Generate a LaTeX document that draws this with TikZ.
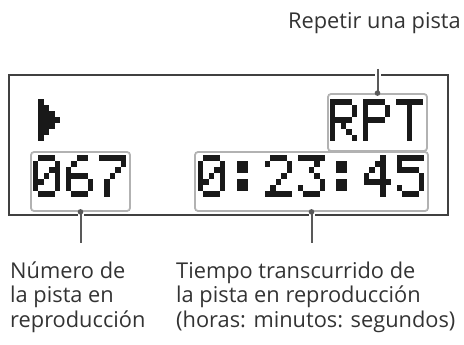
\documentclass[tikz,border=0pt]{standalone}
\usepackage{fontspec}
\setmainfont{Open Sans}
\makeatletter
\newcount\lcdcol
\def\lcdbits#1{\ifx#1\relax\expandafter\@gobble\else\expandafter\@firstofone\fi
  {\ifnum#1=1 \fill[lcd] ({\lcdX+\the\lcdcol*5.4},{\lcdY}) rectangle +(5.45,6.05);\fi
   \advance\lcdcol by 1\relax\lcdbits}}
\makeatother
\newcommand\lcdchar[3]{%
  \foreach \r [count=\j from 0] in #3 {%
    \pgfmathsetmacro\lcdX{#1}%
    \pgfmathsetmacro\lcdY{#2+\j*6}%
    \lcdcol=0
    \expandafter\lcdbits\r\relax
  }}
\def\chZero{01110,10001,10011,10101,11001,10001,01110}
\def\chTwo{01110,10001,00001,00010,00100,01000,11111}
\def\chThree{11111,00010,00100,00010,00001,10001,01110}
\def\chFour{00010,00110,01010,10010,11111,00010,00010}
\def\chFive{11111,10000,11110,00001,00001,10001,01110}
\def\chSix{00110,01000,10000,11110,10001,10001,01110}
\def\chSeven{11111,00001,00010,00100,01000,01000,01000}
\def\chR{11110,10001,10001,11110,10100,10010,10001}
\def\chP{11110,10001,10001,11110,10000,10000,10000}
\def\chT{11111,00100,00100,00100,00100,00100,00100}
\def\chColon{00000,01100,01100,00000,01100,01100,00000}
\def\chPlay{01000,01100,01110,01111,01110,01100,01000}
\begin{document}
\begin{tikzpicture}[x=1pt,y=-1pt,
  lcd/.style={fill=black!90},
  gbox/.style={draw=black!30, line width=1.8pt, rounded corners=3pt, inner sep=0pt},
  frame/.style={draw=black!75, line width=1.4pt},
  leader/.style={draw=black!65, line width=2pt, preaction={draw=white, line width=6pt}},
  ldot/.style={fill=black!65},
  lbl/.style={anchor=base west, inner sep=0pt, font=\fontsize{21.8}{24}\selectfont, text=black!80}]
\useasboundingbox (0,0) rectangle (464,345);
% display frame
\draw[frame] (9,75) rectangle (448,215);
% labels
\node[lbl, anchor=base east] (rep) at (461,29) {Repetir una pista};
\node[lbl] (num1) at (10,278) {Número de};
\node[lbl] (num2) at (10,302.5) {la pista en};
\node[lbl] (num3) at (10,327) {reproducción};
\node[lbl] (tie1) at (176,278) {Tiempo transcurrido de};
\node[lbl] (tie2) at (176,302.5) {la pista en reproducción};
\node[lbl] (tie3) at (176,327) {(horas: minutos: segundos)};
% boxes
\node[gbox, minimum width=99pt, minimum height=57pt] (rptbox) at (377.5,122.5) {};
\node[gbox, minimum width=99pt, minimum height=59pt] (numbox) at (80.5,181.5) {};
\node[gbox, minimum width=233pt, minimum height=59pt] (timebox) at (311.5,181.5) {};
% leader ends
\coordinate (rpttop) at (377.5,69);
\coordinate (numbot) at (80.5,243);
\coordinate (timebot) at (311.5,243);
\draw[leader] (rpttop) -- (rptbox.north);
\draw[leader] (numbox.south) -- (numbot);
\draw[leader] (timebox.south) -- (timebot);
\fill[ldot] (rptbox.north) circle (2.8);
\fill[ldot] (numbox.south) circle (2.8);
\fill[ldot] (timebox.south) circle (2.8);
% LCD pixels
\lcdchar{33}{99}{\chPlay}
\lcdchar{330}{99}{\chR}
\lcdchar{363}{99}{\chP}
\lcdchar{396}{99}{\chT}
\lcdchar{33}{155}{\chZero}
\lcdchar{66}{155}{\chSix}
\lcdchar{99}{155}{\chSeven}
\lcdchar{198}{155}{\chZero}
\lcdchar{232}{155}{\chColon}
\lcdchar{265}{155}{\chTwo}
\lcdchar{298}{155}{\chThree}
\lcdchar{331}{155}{\chColon}
\lcdchar{364}{155}{\chFour}
\lcdchar{397}{155}{\chFive}
\end{tikzpicture}
\end{document}
